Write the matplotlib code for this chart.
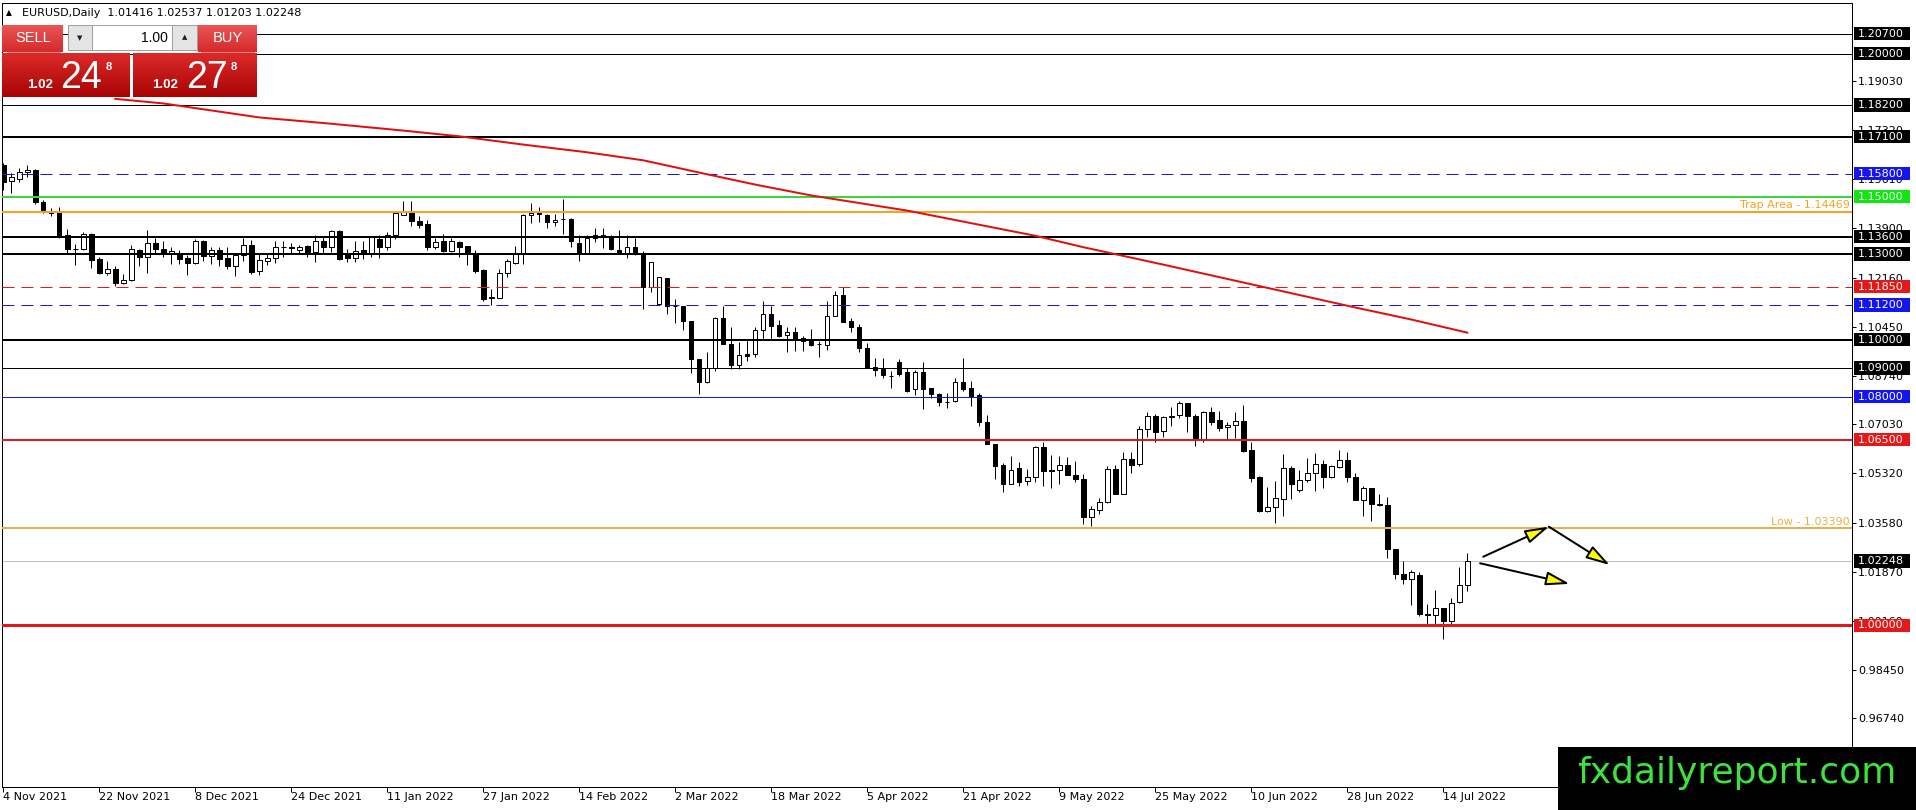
import numpy as np
import matplotlib
matplotlib.use('Agg')
import matplotlib.pyplot as plt
import matplotlib.transforms as mtransforms
from matplotlib.patches import Rectangle, FancyArrowPatch
from matplotlib.colors import LinearSegmentedColormap

plt.rcParams['font.family'] = ['DejaVu Sans']
plt.rcParams['lines.scale_dashes'] = False

# ---- data (EURUSD daily) ----
opens = [
    1.1610, 1.1553, 1.1562, 1.1587, 1.1594, 1.1481, 1.1447, 1.1445, 1.1364, 1.1318,
    1.1316, 1.1370, 1.1282, 1.1234, 1.1248, 1.1197, 1.1207, 1.1312, 1.1289, 1.1336,
    1.1317, 1.1302, 1.1300, 1.1284, 1.1267, 1.1344, 1.1291, 1.1313, 1.1284, 1.1258,
    1.1294, 1.1329, 1.1239, 1.1276, 1.1286, 1.1323, 1.1322, 1.1312, 1.1328, 1.1306,
    1.1344, 1.1323, 1.1381, 1.1302, 1.1286, 1.1312, 1.1298, 1.1352, 1.1323, 1.1364,
    1.1436, 1.1450, 1.1416, 1.1404, 1.1323, 1.1343, 1.1310, 1.1340, 1.1326, 1.1302,
    1.1242, 1.1146, 1.1144, 1.1234, 1.1268, 1.1300, 1.1437, 1.1448, 1.1437, 1.1411,
    1.1423, 1.1423, 1.1338, 1.1300, 1.1356, 1.1367, 1.1358, 1.1312, 1.1303, 1.1323,
    1.1300, 1.1184, 1.1124, 1.1214, 1.1118, 1.1117, 1.1066, 1.0931, 1.0852, 1.0899,
    1.1076, 1.0983, 1.0912, 1.0948, 1.0948, 1.1032, 1.1089, 1.1052, 1.1016, 1.1027,
    1.1005, 1.0996, 1.0984, 1.0981, 1.1083, 1.1157, 1.1066, 1.1045, 1.0972, 1.0905,
    1.0897, 1.0874, 1.0920, 1.0885, 1.0826, 1.0888, 1.0829, 1.0809, 1.0781, 1.0785,
    1.0850, 1.0830, 1.0805, 1.0710, 1.0634, 1.0560, 1.0496, 1.0550, 1.0506, 1.0518,
    1.0623, 1.0543, 1.0543, 1.0561, 1.0526, 1.0512, 1.0378, 1.0403, 1.0430, 1.0547,
    1.0459, 1.0582, 1.0564, 1.0687, 1.0733, 1.0679, 1.0728, 1.0736, 1.0778, 1.0733,
    1.0652, 1.0747, 1.0719, 1.0693, 1.0701, 1.0716, 1.0614, 1.0518, 1.0401, 1.0415,
    1.0442, 1.0550, 1.0474, 1.0510, 1.0534, 1.0565, 1.0518, 1.0553, 1.0579, 1.0518,
    1.0440, 1.0481, 1.0422, 1.0422, 1.0266, 1.0181, 1.0161, 1.0177, 1.0038, 1.0037,
    1.0060, 1.0015, 1.0081, 1.01416,
]
highs = [
    1.1617, 1.1584, 1.1600, 1.1610, 1.1596, 1.1488, 1.1460, 1.1465, 1.1386, 1.1333,
    1.1375, 1.1372, 1.1290, 1.1274, 1.1256, 1.1229, 1.1330, 1.1318, 1.1382, 1.1355,
    1.1345, 1.1323, 1.1312, 1.1297, 1.1352, 1.1349, 1.1323, 1.1323, 1.1322, 1.1300,
    1.1356, 1.1349, 1.1300, 1.1298, 1.1343, 1.1343, 1.1338, 1.1329, 1.1331, 1.1367,
    1.1358, 1.1384, 1.1383, 1.1318, 1.1344, 1.1343, 1.1362, 1.1364, 1.1375, 1.1444,
    1.1483, 1.1483, 1.1433, 1.1418, 1.1356, 1.1370, 1.1356, 1.1343, 1.1326, 1.1312,
    1.1248, 1.1175, 1.1248, 1.1281, 1.1327, 1.1439, 1.1477, 1.1465, 1.1439, 1.1439,
    1.1490, 1.1425, 1.1367, 1.1367, 1.1390, 1.1390, 1.1365, 1.1384, 1.1365, 1.1356,
    1.1309, 1.1271, 1.1217, 1.1214, 1.1141, 1.1117, 1.1066, 1.0933, 1.0956, 1.1078,
    1.1118, 1.1043, 1.0991, 1.1000, 1.1045, 1.1136, 1.1117, 1.1068, 1.1043, 1.1043,
    1.1013, 1.1037, 1.0996, 1.1136, 1.1171, 1.1185, 1.1075, 1.1054, 1.0988, 1.0934,
    1.0934, 1.0891, 1.0932, 1.0900, 1.0893, 1.0923, 1.0832, 1.0812, 1.0812, 1.0865,
    1.0935, 1.0856, 1.0812, 1.0737, 1.0634, 1.0569, 1.0593, 1.0570, 1.0547, 1.0628,
    1.0642, 1.0597, 1.0593, 1.0588, 1.0576, 1.0529, 1.0418, 1.0444, 1.0556, 1.0561,
    1.0605, 1.0605, 1.0698, 1.0747, 1.0739, 1.0733, 1.0763, 1.0786, 1.0778, 1.0739,
    1.0751, 1.0763, 1.0751, 1.0712, 1.0747, 1.0772, 1.0642, 1.0521, 1.0485, 1.0506,
    1.0600, 1.0559, 1.0545, 1.0585, 1.0603, 1.0580, 1.0561, 1.0615, 1.0608, 1.0532,
    1.0489, 1.0481, 1.0460, 1.0448, 1.0266, 1.0224, 1.0192, 1.0186, 1.0073, 1.0122,
    1.0060, 1.0096, 1.0204, 1.02537,
]
lows = [
    1.1524, 1.1514, 1.1550, 1.1568, 1.1474, 1.1441, 1.1433, 1.1356, 1.1302, 1.1262,
    1.1312, 1.1250, 1.1228, 1.1226, 1.1186, 1.1194, 1.1205, 1.1256, 1.1233, 1.1300,
    1.1290, 1.1264, 1.1264, 1.1227, 1.1265, 1.1275, 1.1264, 1.1256, 1.1248, 1.1222,
    1.1276, 1.1229, 1.1227, 1.1261, 1.1266, 1.1290, 1.1301, 1.1300, 1.1289, 1.1271,
    1.1298, 1.1306, 1.1277, 1.1271, 1.1271, 1.1281, 1.1289, 1.1286, 1.1312, 1.1352,
    1.1436, 1.1398, 1.1390, 1.1312, 1.1318, 1.1306, 1.1306, 1.1289, 1.1260, 1.1233,
    1.1133, 1.1120, 1.1144, 1.1219, 1.1263, 1.1265, 1.1408, 1.1411, 1.1390, 1.1396,
    1.1369, 1.1323, 1.1275, 1.1300, 1.1342, 1.1321, 1.1312, 1.1300, 1.1284, 1.1295,
    1.1107, 1.1165, 1.1122, 1.1089, 1.1057, 1.1032, 1.0883, 1.0808, 1.0849, 1.0890,
    1.0983, 1.0898, 1.0898, 1.0925, 1.0939, 1.1003, 1.1002, 1.1010, 1.0958, 1.0961,
    1.0961, 1.0978, 1.0940, 1.0964, 1.1083, 1.1060, 1.1025, 1.0958, 1.0900, 1.0873,
    1.0865, 1.0832, 1.0871, 1.0818, 1.0806, 1.0756, 1.0795, 1.0766, 1.0760, 1.0783,
    1.0821, 1.0768, 1.0696, 1.0634, 1.0511, 1.0468, 1.0496, 1.0488, 1.0491, 1.0502,
    1.0488, 1.0479, 1.0494, 1.0526, 1.0502, 1.0354, 1.0346, 1.0389, 1.0427, 1.0459,
    1.0459, 1.0533, 1.0558, 1.0658, 1.0640, 1.0660, 1.0696, 1.0724, 1.0675, 1.0626,
    1.0642, 1.0702, 1.0681, 1.0652, 1.0654, 1.0607, 1.0502, 1.0397, 1.0397, 1.0358,
    1.0384, 1.0443, 1.0468, 1.0503, 1.0469, 1.0480, 1.0515, 1.0550, 1.0501, 1.0437,
    1.0382, 1.0365, 1.0417, 1.0236, 1.0163, 1.0143, 1.0072, 1.0033, 1.0006, 1.0006,
    0.9953, 1.0002, 1.0079, 1.01203,
]
closes = [
    1.1552, 1.1567, 1.1587, 1.1592, 1.1480, 1.1452, 1.1441, 1.1360, 1.1318, 1.1316,
    1.1370, 1.1279, 1.1233, 1.1248, 1.1197, 1.1207, 1.1317, 1.1289, 1.1336, 1.1316,
    1.1303, 1.1311, 1.1283, 1.1267, 1.1344, 1.1291, 1.1313, 1.1282, 1.1256, 1.1294,
    1.1329, 1.1236, 1.1277, 1.1286, 1.1323, 1.1322, 1.1320, 1.1323, 1.1304, 1.1344,
    1.1323, 1.1381, 1.1283, 1.1286, 1.1310, 1.1298, 1.1360, 1.1323, 1.1364, 1.1442,
    1.1450, 1.1413, 1.1402, 1.1323, 1.1341, 1.1310, 1.1343, 1.1323, 1.1302, 1.1240,
    1.1141, 1.1148, 1.1234, 1.1274, 1.1302, 1.1437, 1.1442, 1.1440, 1.1411, 1.1419,
    1.1420, 1.1346, 1.1300, 1.1356, 1.1367, 1.1358, 1.1317, 1.1303, 1.1323, 1.1300,
    1.1184, 1.1271, 1.1217, 1.1118, 1.1118, 1.1064, 1.0932, 1.0852, 1.0899, 1.1076,
    1.0985, 1.0912, 1.0945, 1.0943, 1.1032, 1.1090, 1.1046, 1.1013, 1.1027, 1.1002,
    1.0996, 1.0981, 1.0985, 1.1083, 1.1157, 1.1062, 1.1043, 1.0969, 1.0900, 1.0893,
    1.0876, 1.0873, 1.0881, 1.0821, 1.0888, 1.0826, 1.0811, 1.0780, 1.0783, 1.0850,
    1.0826, 1.0800, 1.0710, 1.0634, 1.0556, 1.0496, 1.0543, 1.0502, 1.0518, 1.0623,
    1.0539, 1.0539, 1.0561, 1.0526, 1.0512, 1.0378, 1.0407, 1.0432, 1.0547, 1.0459,
    1.0582, 1.0561, 1.0687, 1.0733, 1.0675, 1.0728, 1.0733, 1.0778, 1.0731, 1.0654,
    1.0747, 1.0712, 1.0690, 1.0701, 1.0716, 1.0611, 1.0514, 1.0401, 1.0415, 1.0445,
    1.0550, 1.0495, 1.0510, 1.0534, 1.0565, 1.0518, 1.0556, 1.0579, 1.0518, 1.0437,
    1.0481, 1.0423, 1.0423, 1.0266, 1.0181, 1.0161, 1.0186, 1.0038, 1.0037, 1.0060,
    1.0015, 1.0079, 1.0142, 1.02248,
]

date_pos = [0, 12, 24, 36, 48, 60, 72, 84, 96, 108, 120, 132, 144, 156, 168, 180]
date_labels = ['4 Nov 2021', '22 Nov 2021', '8 Dec 2021', '24 Dec 2021', '11 Jan 2022',
               '27 Jan 2022', '14 Feb 2022', '2 Mar 2022', '18 Mar 2022', '5 Apr 2022',
               '21 Apr 2022', '9 May 2022', '25 May 2022', '10 Jun 2022', '28 Jun 2022',
               '14 Jul 2022']

price_ticks = [1.19030, 1.17320, 1.15610, 1.13900, 1.12160, 1.10450, 1.08740,
               1.07030, 1.05320, 1.03580, 1.01870, 1.00160, 0.98450, 0.96740]

# moving average read at a few bars
ma_bar = [14, 20, 32, 41, 50, 57, 65, 73, 80, 88, 94, 101, 113, 129, 135, 145, 157, 169, 176, 183]
ma_val = [1.1842, 1.1826, 1.1777, 1.1755, 1.1731, 1.1711, 1.1682, 1.1655, 1.1627, 1.1578,
          1.1542, 1.1504, 1.1451, 1.1363, 1.1323, 1.1262, 1.1187, 1.1112, 1.1070, 1.1024]

# horizontal levels
level_prices = [1.20700, 1.20000, 1.18200, 1.17100, 1.15800, 1.15000, 1.14469, 1.13600,
                1.13000, 1.11850, 1.11200, 1.10000, 1.09000, 1.08000, 1.06500, 1.03390, 1.00000]
trap_level = 1.14469
low_level = 1.03390

# arrows drawn on the chart (bar, price)
arrow_x0 = [185.0, 193.2, 184.6]
arrow_y0 = [1.0240, 1.0345, 1.0217]
arrow_x1 = [193.2, 200.8, 195.8]
arrow_y1 = [1.0345, 1.0211, 1.0145]

bid = 1.02248
ask = 1.02278

# ---- styles ----
BLUE = '#1a1ab4'
BLUE_BG = '#1414f0'
RED = '#e41818'
ORANGE = '#f5a320'
LOWORANGE = '#e8b04c'
GREEN = '#3ed43e'
level_style = {
    1.20700: ('black', 1, False, 'black'),
    1.20000: ('black', 1, False, 'black'),
    1.18200: ('black', 1, False, 'black'),
    1.17100: ('black', 2, False, 'black'),
    1.15800: (BLUE, 1, True, BLUE_BG),
    1.15000: (GREEN, 2, False, '#12e612'),
    1.14469: (ORANGE, 2, False, None),
    1.13600: ('black', 2, False, 'black'),
    1.13000: ('black', 2, False, 'black'),
    1.11850: (RED, 1, True, RED),
    1.11200: (BLUE, 1, True, BLUE_BG),
    1.10000: ('black', 2, False, 'black'),
    1.09000: ('black', 1, False, 'black'),
    1.08000: (BLUE, 1, False, BLUE_BG),
    1.06500: (RED, 2, False, RED),
    1.03390: (LOWORANGE, 2, False, None),
    1.00000: (RED, 3, False, RED),
}

W, H = 1916, 810
PT = 0.72  # points per pixel at dpi 100

# pixel layout of the price pane
ax_l, ax_r, ax_t, ax_b = 2, 1852, 2.7, 786.7
k = 2858.0           # pixels per price unit
p_ref, y_ref = 1.207, 33.7
bar0_px, bar_w = 3.3, 8.0

fig = plt.figure(figsize=(W / 100, H / 100), dpi=100)
fig.patch.set_facecolor('white')
ax = fig.add_axes([ax_l / W, 1 - ax_b / H, (ax_r - ax_l) / W, (ax_b - ax_t) / H])
ax.set_xlim((ax_l - bar0_px) / bar_w, (ax_r - bar0_px) / bar_w)
ax.set_ylim(p_ref - (ax_b - y_ref) / k, p_ref + (y_ref - ax_t) / k)
for s in ax.spines.values():
    s.set_color('black')
    s.set_linewidth(1 * PT)

# candles
x = np.arange(len(opens))
o = np.array(opens)
c = np.array(closes)
up = c > o
ax.vlines(x, lows, highs, color='black', lw=1 * PT, zorder=3)
ax.bar(x[up], (c - o)[up], bottom=o[up], width=0.55, color='white',
       edgecolor='black', lw=1 * PT, zorder=4)
ax.bar(x[~up], (o - c)[~up], bottom=c[~up], width=0.55, color='black',
       edgecolor='black', lw=1 * PT, zorder=4)

# levels
for p in level_prices:
    col, w, dashed, _ = level_style[p]
    ls = (0, (12 * PT, 7 * PT)) if dashed else '-'
    ax.axhline(p, color=col, lw=w * PT, linestyle=ls, zorder=5)

# current price line
ax.axhline(bid, color='#c0c0c0', lw=1 * PT, zorder=2)

# moving average
ax.plot(ma_bar, ma_val, color='#e01010', lw=2 * PT, zorder=6, solid_joinstyle='round')

# arrows
for xa, ya, xb, yb in zip(arrow_x0, arrow_y0, arrow_x1, arrow_y1):
    ar = FancyArrowPatch((xa, ya), (xb, yb), arrowstyle='-|>,head_length=1.45,head_width=0.42',
                         mutation_scale=10, lw=2 * PT, facecolor='#ffff00',
                         edgecolor='black', shrinkA=0, shrinkB=0, zorder=7)
    ax.add_patch(ar)

# texts on levels
blend = mtransforms.blended_transform_factory(ax.transAxes, ax.transData)
aw = ax_r - ax_l
ax.text(1 - 2 / aw, trap_level + 1.5 / k, 'Trap Area - %.5f' % trap_level, transform=blend,
        ha='right', va='bottom', color=ORANGE, fontsize=8, zorder=6)
ax.text(1 - 2 / aw, low_level + 1.5 / k, 'Low - %.5f' % low_level, transform=blend,
        ha='right', va='bottom', color=LOWORANGE, fontsize=8, zorder=6)

# axes ticks
ax.yaxis.tick_right()
ax.set_yticks(price_ticks)
ax.set_yticklabels(['%.5f' % v for v in price_ticks])
ax.tick_params(axis='y', length=4 * PT, width=1 * PT, pad=2 * PT, labelsize=8, colors='black')
ax.set_xticks(date_pos)
ax.set_xticklabels(date_labels)
for lbl in ax.get_xticklabels():
    lbl.set_ha('left')
ax.tick_params(axis='x', length=5 * PT, width=1 * PT, pad=0.6 * PT, labelsize=8, colors='black')

# price label boxes on the right scale
box_h = 13.5 / k
for p in level_prices + [bid]:
    bg = 'black' if p == bid else level_style[p][3]
    if bg is None:
        continue
    ax.add_patch(Rectangle(((1854 - ax_l) / aw, p - box_h / 2), 56 / aw, box_h,
                           transform=blend, facecolor=bg, edgecolor='none',
                           clip_on=False, zorder=8))
    ax.text((1858 - ax_l) / aw, p, '%.5f' % p, transform=blend, ha='left', va='center',
            color='white', fontsize=8, clip_on=False, zorder=9)

# ---- overlay in pixel coordinates: header, trade panel, watermark ----
ov = fig.add_axes([0, 0, 1, 1], zorder=10)
ov.patch.set_visible(False)
ov.axis('off')

hdr = 'EURUSD,Daily  %.5f %.5f %.5f %.5f' % (opens[-1], highs[-1], lows[-1], closes[-1])
ov.text(6, 13, '\u25b2', fontsize=5.5, ha='left', va='center', color='black')
ov.text(22, 12.5, hdr, fontsize=8, ha='left', va='center', color='black')

btn_cmap = LinearSegmentedColormap.from_list('btn', ['#ea5656', '#d42a2a'])
box_cmap = LinearSegmentedColormap.from_list('box', ['#dc2a2a', '#a80404'])
grad = np.linspace(0, 1, 64).reshape(-1, 1)


def grad_rect(x0, x1, y0, y1, cmap):
    ov.imshow(grad, cmap=cmap, extent=(x0, x1, y1, y0), aspect='auto',
              origin='upper', interpolation='bilinear', zorder=1)


grad_rect(2, 63, 25, 52, btn_cmap)      # SELL button
grad_rect(198, 257, 25, 52, btn_cmap)   # BUY button
grad_rect(2, 130, 53, 97, box_cmap)     # bid box
grad_rect(133, 257, 53, 97, box_cmap)   # ask box
ov.plot([8, 60], [52, 52], color='#f08080', lw=1 * PT, zorder=2)
ov.plot([201, 254], [52, 52], color='#f08080', lw=1 * PT, zorder=2)

# lot size control
ov.add_patch(Rectangle((68, 25), 129, 25, facecolor='white', edgecolor='#a0a0a0', lw=1 * PT, zorder=2))
ov.add_patch(Rectangle((68, 25), 24, 25, facecolor='#e4e4e4', edgecolor='#a0a0a0', lw=1 * PT, zorder=3))
ov.add_patch(Rectangle((172, 25), 25, 25, facecolor='#e4e4e4', edgecolor='#a0a0a0', lw=1 * PT, zorder=3))
ov.text(80, 38, '\u25bc', fontsize=5, ha='center', va='center', color='#202020', zorder=4)
ov.text(184.5, 37, '\u25b2', fontsize=5, ha='center', va='center', color='#202020', zorder=4)
ov.text(168, 38, '1.00', fontsize=10, ha='right', va='center', color='black',
        family='Liberation Sans', zorder=4)

ov.text(33, 38.5, 'SELL', fontsize=10.5, ha='center', va='center', color='white',
        family='Liberation Sans', zorder=4)
ov.text(227.5, 38.5, 'BUY', fontsize=10.5, ha='center', va='center', color='white',
        family='Liberation Sans', zorder=4)

bid_s = '%.5f' % bid
ask_s = '%.5f' % ask
for s, x_small, x_big, x_sup in [(bid_s, 27, 60, 106), (ask_s, 152, 186, 231)]:
    ov.text(x_small, 87.5, s[:4], fontsize=9.5, fontweight='bold', ha='left', va='baseline',
            color='white', family='Liberation Sans', zorder=4)
    ov.text(x_big, 88, s[4:6], fontsize=27, ha='left', va='baseline', color='white',
            family='Liberation Sans', zorder=4)
    ov.text(x_sup, 70, s[6], fontsize=8, fontweight='bold', ha='left', va='baseline',
            color='white', family='Liberation Sans', zorder=4)

# watermark
ov.add_patch(Rectangle((1558, 747), 358, 63, facecolor='black', edgecolor='none', zorder=5))
ov.text(1737, 773, 'fxdailyreport.com', fontsize=26, ha='center', va='center',
        color='#3ee23e', zorder=6)

ov.set_xlim(0, W)
ov.set_ylim(H, 0)

fig.savefig('out.png', dpi=100)
